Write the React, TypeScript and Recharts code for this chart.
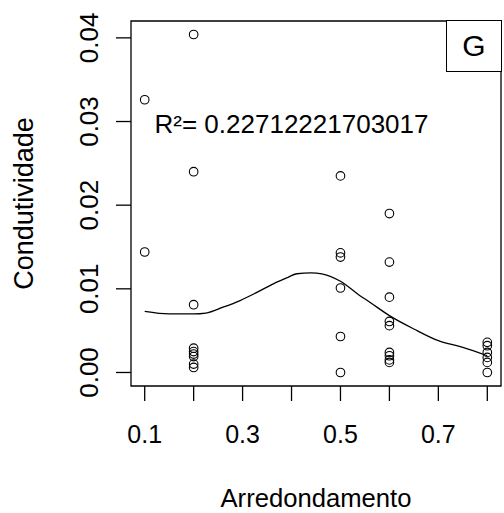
import { ComposedChart, Scatter, Line, XAxis, YAxis, ReferenceArea, ReferenceDot, Label } from 'recharts';

// Arredondamento groups and the Condutividade values read for each group
const grupos = [0.1, 0.2, 0.5, 0.6, 0.8];
const cond01 = [0.0326, 0.0144];
const cond02 = [0.0404, 0.0240, 0.0081, 0.0029, 0.0025, 0.0022, 0.0019, 0.0010, 0.0006];
const cond05 = [0.0235, 0.0143, 0.0138, 0.0101, 0.0043, 0.0];
const cond06 = [0.0190, 0.0132, 0.0090, 0.0061, 0.0056, 0.0024, 0.0020, 0.0015, 0.0012];
const cond08 = [0.0036, 0.0032, 0.0024, 0.0018, 0.0012, 0.0];

// smoothed (loess) curve
const suaveX = [0.1, 0.15, 0.2, 0.225, 0.26, 0.295, 0.33, 0.363, 0.39, 0.411, 0.44, 0.462, 0.5, 0.537, 0.56, 0.6, 0.65, 0.7, 0.75, 0.8];
const suaveY = [0.0073, 0.0070, 0.0070, 0.0071, 0.0078, 0.0086, 0.0096, 0.0106, 0.0113, 0.0118, 0.0119, 0.0118, 0.0109, 0.0093, 0.0084, 0.0068, 0.0052, 0.0038, 0.0030, 0.0020];

const xTicks = [0.1, 0.2, 0.3, 0.4, 0.5, 0.6, 0.7, 0.8];
const xLabels = ['0.1', '', '0.3', '', '0.5', '', '0.7', ''];
const yTicks = [0, 0.01, 0.02, 0.03, 0.04];
const yLabels = ['0.00', '0.01', '0.02', '0.03', '0.04'];

const r2Text = 'R²= 0.22712221703017';
const legendText = 'G';

const xDomain = [0.072, 0.828];
const yDomain = [-0.001616, 0.042016];

const FONT = '"Liberation Sans", Arial, sans-serif';

const porGrupo = [cond01, cond02, cond05, cond06, cond08];
const pontos = porGrupo.flatMap((vals, i) => vals.map(v => ({ x: grupos[i], y: v })));
const curva = suaveX.map((x, i) => ({ x, y: suaveY[i] }));

function YTick(props: any) {
  const { x, y, payload } = props;
  const idx = yTicks.indexOf(payload.value);
  return (
    <text
      transform={`translate(${x}, ${y}) rotate(-90)`}
      textAnchor="middle"
      fontSize={26}
      fontFamily={FONT}
      fill="#000"
    >
      {yLabels[idx]}
    </text>
  );
}

function XTick(props: any) {
  const { x, y, payload } = props;
  const idx = xTicks.indexOf(payload.value);
  return (
    <text x={x} y={y} dy="0.71em" textAnchor="middle" fontSize={25} fontFamily={FONT} fill="#000">
      {xLabels[idx]}
    </text>
  );
}

export default function App() {
  return (
    <div style={{ position: 'absolute', left: 0, top: 0, width: 504, height: 513, background: '#fff' }}>
      <ComposedChart width={504} height={513} margin={{ top: 21, right: 3, left: 0, bottom: 0 }}>
        <XAxis
          type="number"
          dataKey="x"
          domain={xDomain}
          allowDataOverflow
          ticks={xTicks}
          tick={<XTick />}
          tickSize={15}
          tickMargin={24}
          tickLine={{ stroke: '#000', strokeWidth: 1.3 }}
          axisLine={false}
          height={127}
        >
          <Label
            content={(p: any) => {
              const vb = p.viewBox;
              return (
                <text
                  x={vb.x + vb.width / 2}
                  y={vb.y + 121}
                  textAnchor="middle"
                  fontSize={25}
                  fontFamily={FONT}
                  fill="#000"
                  textLength={191}
                  lengthAdjust="spacingAndGlyphs"
                >
                  Arredondamento
                </text>
              );
            }}
          />
        </XAxis>
        <YAxis
          type="number"
          dataKey="y"
          domain={yDomain}
          allowDataOverflow
          ticks={yTicks}
          tick={<YTick />}
          tickSize={15}
          tickMargin={18}
          tickLine={{ stroke: '#000', strokeWidth: 1.3 }}
          axisLine={false}
          width={131}
        >
          <Label
            content={(p: any) => {
              const vb = p.viewBox;
              return (
                <text
                  transform={`translate(${vb.x + 33}, ${vb.y + vb.height / 2}) rotate(-90)`}
                  textAnchor="middle"
                  fontSize={27}
                  fontFamily={FONT}
                  fill="#000"
                >
                  Condutividade
                </text>
              );
            }}
          />
        </YAxis>
        <ReferenceArea
          x1={xDomain[0]}
          x2={xDomain[1]}
          y1={yDomain[0]}
          y2={yDomain[1]}
          fill="none"
          stroke="#000"
          strokeWidth={1.3}
          ifOverflow="visible"
        />
        <Scatter
          data={pontos}
          isAnimationActive={false}
          shape={(p: any) => <circle cx={p.cx} cy={p.cy} r={4.3} fill="none" stroke="#000" strokeWidth={1.1} />}
        />
        <Line
          data={curva}
          dataKey="y"
          type="monotone"
          stroke="#000"
          strokeWidth={1.3}
          dot={false}
          activeDot={false}
          isAnimationActive={false}
        />
        <ReferenceDot
          x={0.4}
          y={0.03}
          r={0}
          ifOverflow="visible"
          label={(p: any) => {
            const vb = p.viewBox;
            const cx = vb.x + vb.width / 2;
            const cy = vb.y + vb.height / 2;
            return (
              <text x={cx} y={cy + 11} textAnchor="middle" fontSize={26} fontFamily={FONT} fill="#000">
                {r2Text}
              </text>
            );
          }}
        />
      </ComposedChart>
      <div
        style={{
          position: 'absolute',
          left: 446,
          top: 20,
          width: 56,
          height: 52,
          boxSizing: 'border-box',
          border: '1.5px solid #000',
          background: '#fff',
          display: 'flex',
          alignItems: 'center',
          justifyContent: 'center',
          fontFamily: FONT,
          fontSize: 30,
          color: '#000',
        }}
      >
        {legendText}
      </div>
    </div>
  );
}
